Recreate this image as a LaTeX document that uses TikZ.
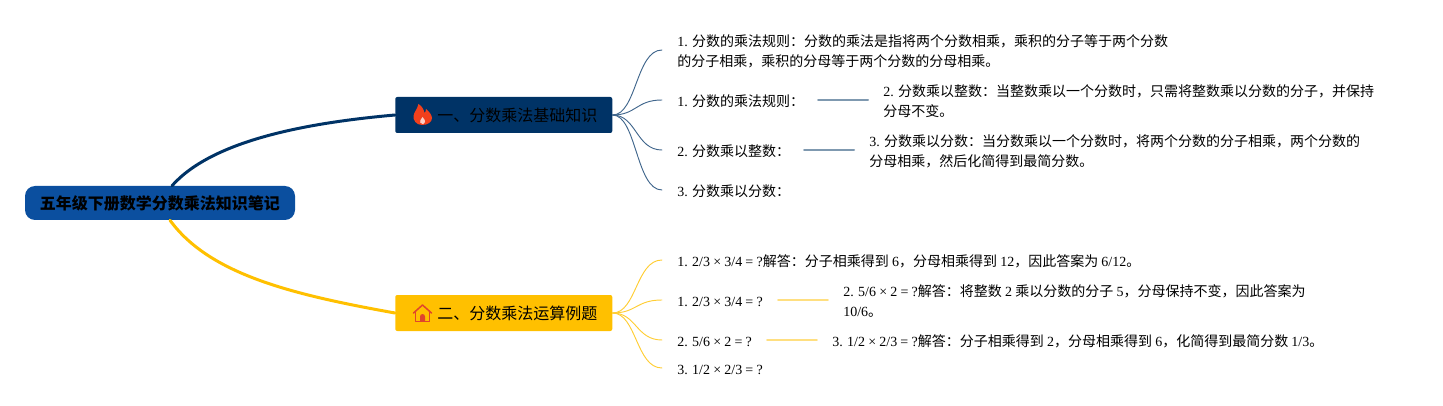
\documentclass[tikz,border=0pt]{standalone}
\usepackage{fontspec}
\setmainfont[WordSpace=0.92]{Liberation Serif}
\newfontfamily\cjk{Noto Sans CJK SC}
\newcommand{\zh}[1]{{\cjk #1}}
\definecolor{rootblue}{HTML}{0B4F9F}
\definecolor{navy}{HTML}{003366}
\definecolor{amber}{HTML}{FFC000}
\definecolor{navyline}{HTML}{7F99B0}
\definecolor{amberline}{HTML}{FFDF80}
\definecolor{flame}{HTML}{F2401C}
\definecolor{roof}{HTML}{E0452C}
\tikzset{
	rootbox/.style={fill=rootblue, rounded corners=7.5pt, minimum width=202.5pt, minimum height=25.5pt, inner sep=0pt, font=\fontsize{12pt}{14pt}\selectfont\cjk\bfseries},
	topicbox/.style={anchor=west, rounded corners=1.5pt, minimum width=162.75pt, minimum height=27pt, inner sep=0pt, font=\fontsize{12pt}{14pt}\selectfont\cjk},
	leaf/.style={anchor=west, inner xsep=11.25pt, inner ysep=0pt, align=left, font=\fontsize{10.5pt}{15pt}\selectfont},
	bluecurve/.style={navy!75!white, line width=.7pt},
	ambercurve/.style={amber!80!white, line width=.7pt},
}
\begin{document}
\begin{tikzpicture}[x=.75pt, y=-.75pt, line join=round, line cap=round]
	\useasboundingbox (0,0) rectangle (1443,406);
	% root and main branches
	\node[rootbox] (root) at (160,203) {五年级下册数学分数乘法知识笔记};
	\node[topicbox, fill=navy] (basic) at (395,115) {\hspace{20.5pt}\raisebox{-.75pt}{一、分数乘法基础知识}};
	\node[topicbox, fill=amber] (calc) at (395,313) {\hspace{20.5pt}\raisebox{-.75pt}{二、分数乘法运算例题}};
	\draw[navy, line width=2.25pt] ([xshift=9pt]root.north) .. controls +(40,-45) and +(-90,8) .. (basic.west);
	\draw[amber, line width=2.25pt] ([xshift=7.5pt]root.south) .. controls +(40,55) and +(-100,-18) .. (calc.west);
	% flame
	\fill[flame] (422,125) .. controls (416,125) and (413,120) .. (413.5,116) .. controls (414,112) and (417,110) .. (418.5,104) .. controls (422,106) and (424,110) .. (424.5,113) .. controls (425.5,112) and (426,111) .. (426,109) .. controls (430,112) and (432,116) .. (432,118) .. controls (432,122) and (428,125) .. (422,125) -- cycle;
	\fill[white!75!flame] (422.5,124) .. controls (420,123.5) and (419.5,121.5) .. (420.5,120) .. controls (421.5,119) and (422,118) .. (422.5,117) .. controls (424.5,119) and (425.5,121) .. (425,122) .. controls (424.5,123.5) and (423.5,124) .. (422.5,124) -- cycle;
	% house
	\draw[roof, line width=1.1pt] (413.5,313) -- (422.5,305) -- (431.5,313);
	\draw[roof, line width=1.1pt] (415.5,312) -- (415.5,321.5) -- (429.5,321.5) -- (429.5,312);
	\fill[roof] (420,321) -- (420,316.5) arc[start angle=180, end angle=360, x radius=2.5, y radius=2.5] -- (425,321) -- cycle;
	% first group
	\node[leaf] (a1) at (662,51) {1. \zh{分数的乘法规则：分数的乘法是指将两个分数相乘，乘积的分子等于两个分数}\\\zh{的分子相乘，乘积的分母等于两个分数的分母相乘。}};
	\node[leaf] (a2) at (662,101) {1. \zh{分数的乘法规则：}};
	\node[leaf] (a3) at (662,151) {2. \zh{分数乘以整数：}};
	\node[leaf] (a4) at (662,191) {3. \zh{分数乘以分数：}};
	\node[leaf] (a2d) at (868,101) {2. \zh{分数乘以整数：当整数乘以一个分数时，只需将整数乘以分数的分子，并保持}\\\zh{分母不变。}};
	\node[leaf] (a3d) at (854,151) {3. \zh{分数乘以分数：当分数乘以一个分数时，将两个分数的分子相乘，两个分数的}\\\zh{分母相乘，然后化简得到最简分数。}};
	\foreach \n/\y in {a1/50,a2/100,a3/150,a4/190}
		\draw[bluecurve] (basic.east) .. controls +(24,0) and +(-26,0) .. (\n.west |- 0,\y);
	\draw[navyline, line width=1.5pt] (818,100) coordinate (a2s) -- (a2d.west |- a2s);
	\draw[navyline, line width=1.5pt] (804,150) coordinate (a3s) -- (a3d.west |- a3s);
	% second group
	\node[leaf] (b1) at (662,261) {1. 2/3 × 3/4 = ?\zh{解答：分子相乘得到} 6\zh{，分母相乘得到} 12\zh{，因此答案为} 6/12\zh{。}};
	\node[leaf] (b2) at (662,302) {1. 2/3 × 3/4 = ?};
	\node[leaf] (b3) at (662,342) {2. 5/6 × 2 = ?};
	\node[leaf] (b4) at (662,370) {3. 1/2 × 2/3 = ?};
	\node[leaf] (b2d) at (828,301) {2. 5/6 × 2 = ?\zh{解答：将整数} 2 \zh{乘以分数的分子} 5\zh{，分母保持不变，因此答案为}\\10/6\zh{。}};
	\node[leaf] (b3d) at (817,341) {3. 1/2 × 2/3 = ?\zh{解答：分子相乘得到} 2\zh{，分母相乘得到} 6\zh{，化简得到最简分数} 1/3\zh{。}};
	\foreach \n/\y in {b1/260,b2/300,b3/340,b4/368}
		\draw[ambercurve] (calc.east) .. controls +(24,0) and +(-26,0) .. (\n.west |- 0,\y);
	\draw[amberline, line width=1.2pt] (778,300) coordinate (b2s) -- (b2d.west |- b2s);
	\draw[amberline, line width=1.2pt] (767,340) coordinate (b3s) -- (b3d.west |- b3s);
\end{tikzpicture}
\end{document}
